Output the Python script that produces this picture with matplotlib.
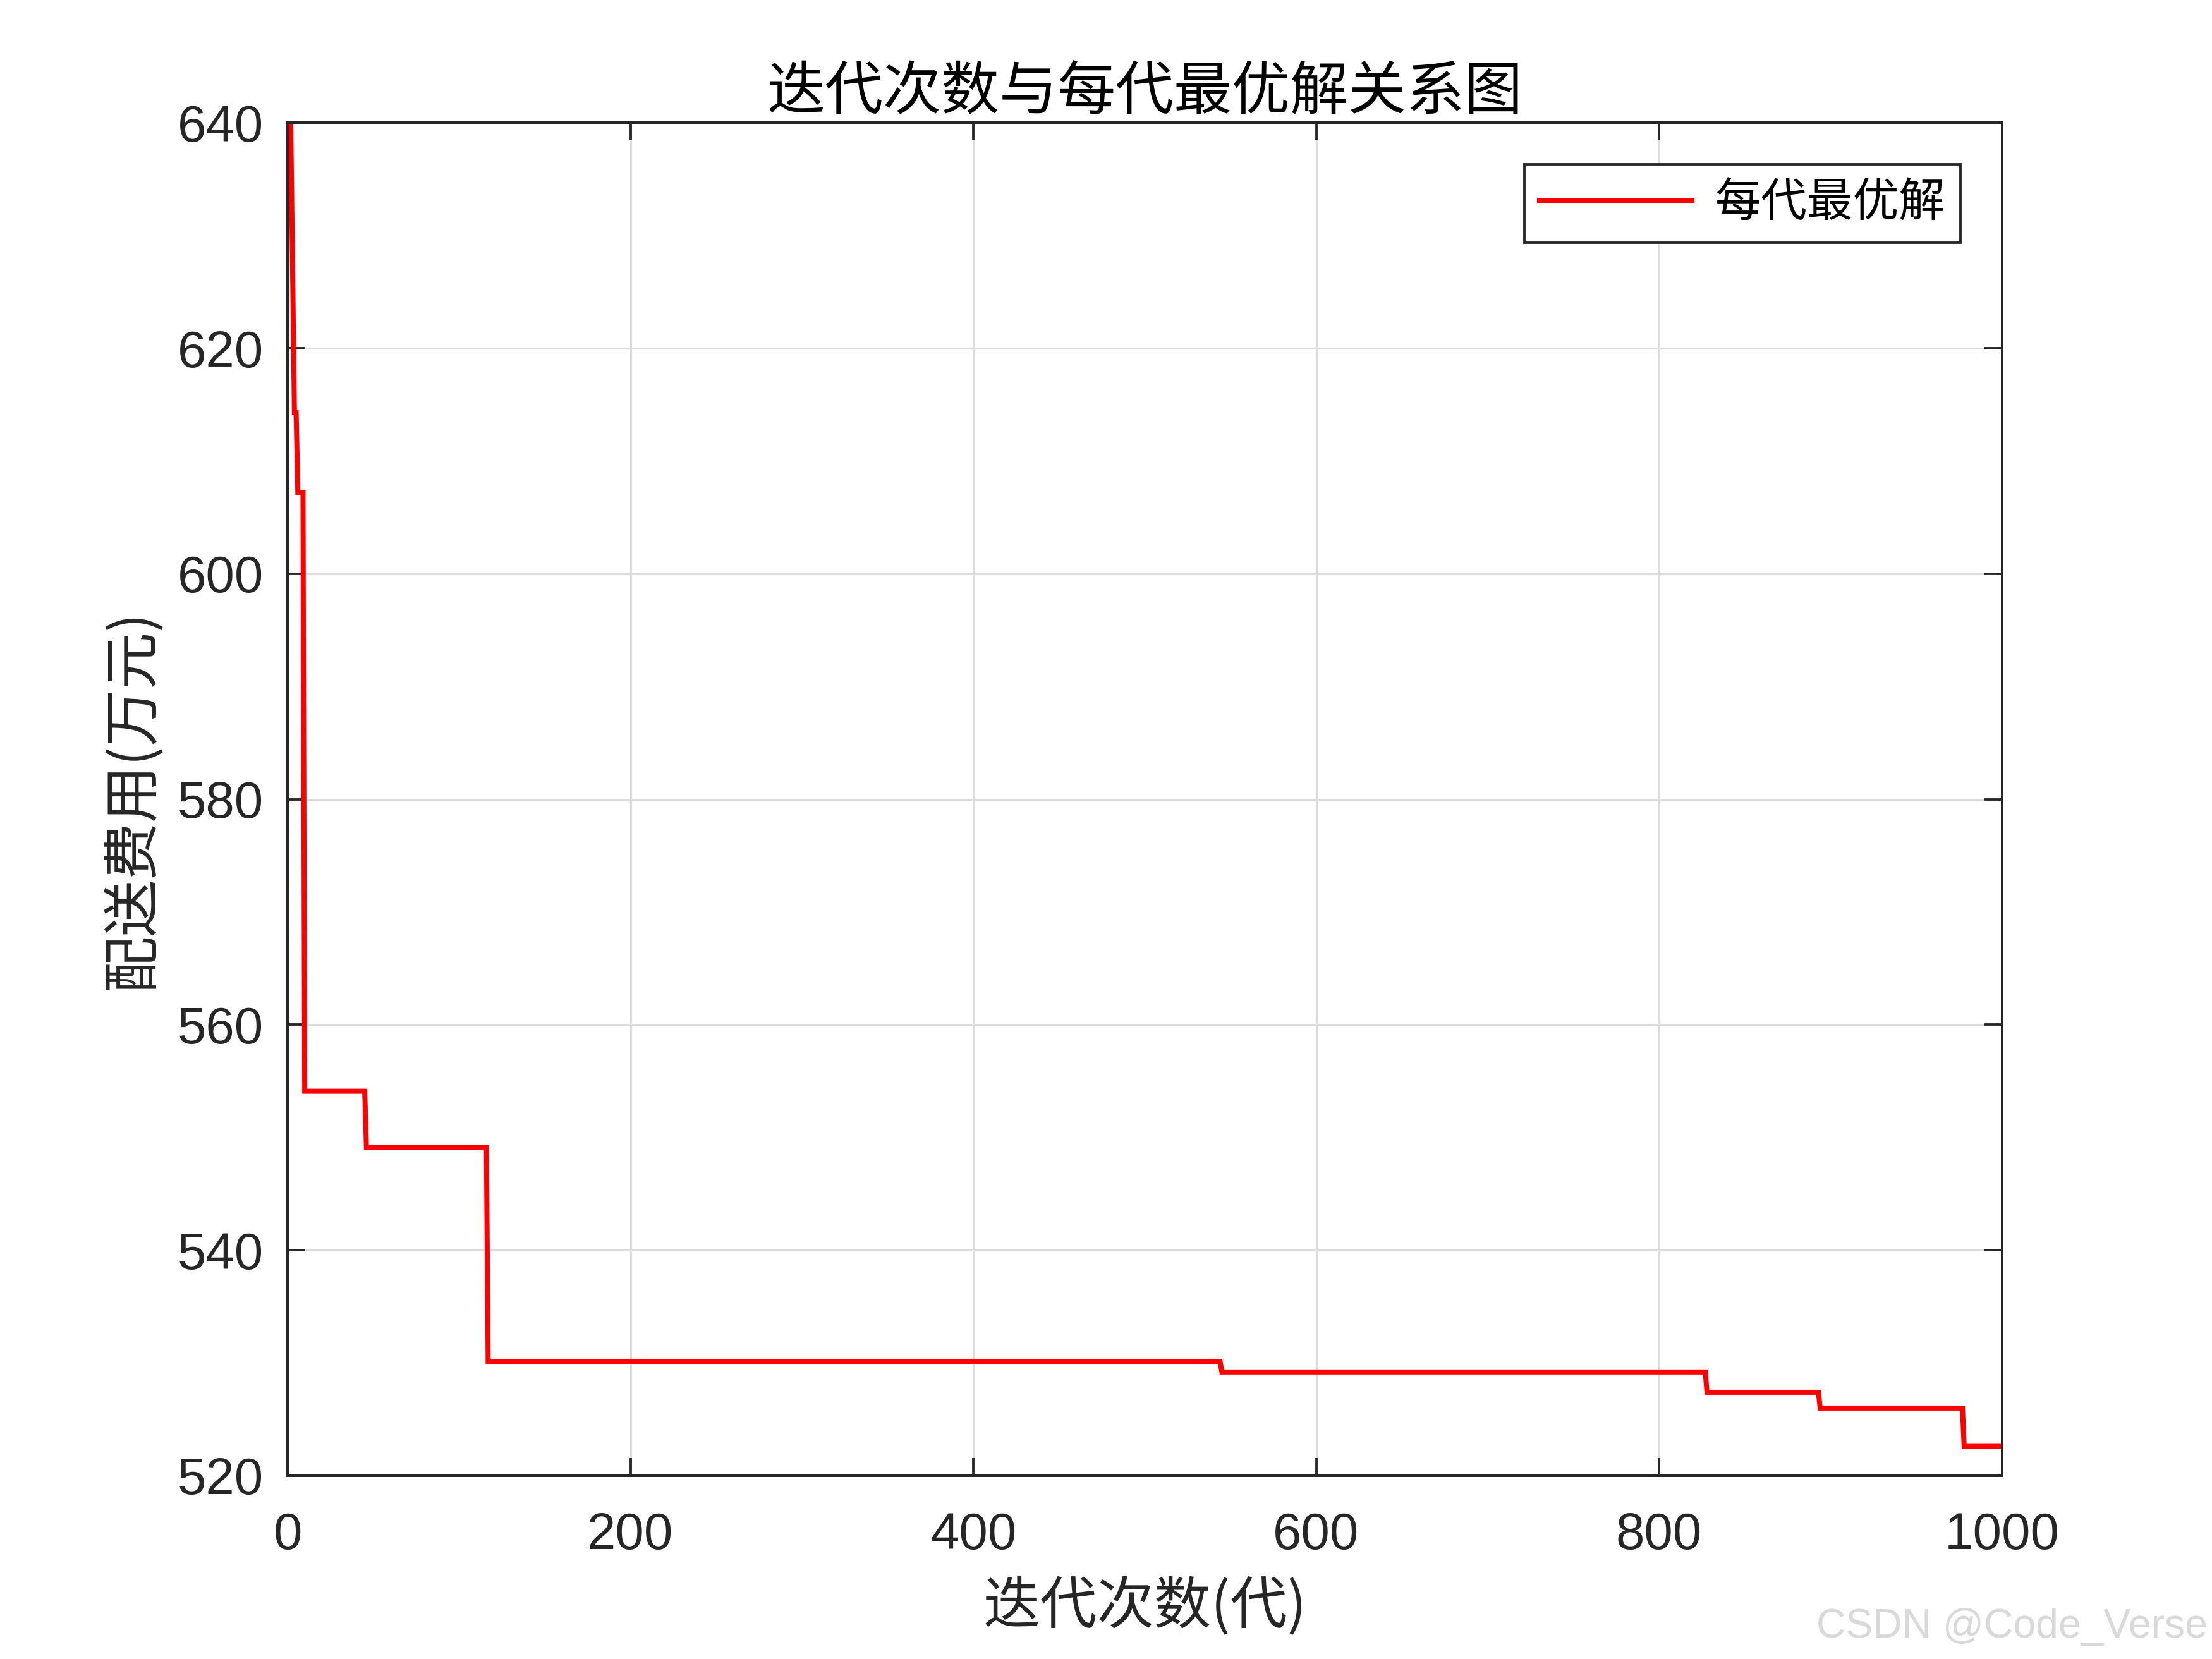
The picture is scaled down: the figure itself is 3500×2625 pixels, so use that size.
import numpy as np
import matplotlib
matplotlib.use("Agg")
import matplotlib.pyplot as plt

# best cost per generation (polyline vertices)
iters = [1, 4, 5, 6, 9, 10, 45, 46, 116, 117, 544, 545,
         827, 828, 893, 894, 977, 978, 1000]
best_cost = [650.0, 614.3, 614.3, 607.2, 607.2, 554.1, 554.1, 549.1,
             549.1, 530.1, 530.1, 529.2, 529.2, 527.4, 527.4, 526.0,
             526.0, 522.6, 522.6]

x_ticks = [0, 200, 400, 600, 800, 1000]
y_ticks = [520, 540, 560, 580, 600, 620, 640]

title_txt = "迭代次数与每代最优解关系图"
xlabel_txt = "迭代次数(代)"
ylabel_txt = "配送费用(万元)"
legend_txt = "每代最优解"
mark_txt = "CSDN @Code_Verse"

cjk = ["Noto Sans CJK SC", "DejaVu Sans"]
axcol = "#262626"

fig = plt.figure(figsize=(14, 10.5), dpi=250)
ax = fig.add_axes([0.13, 0.1105, 0.775, 0.8155])

ax.plot(iters, best_cost, color="#ff0000", lw=2.3, label=legend_txt,
        solid_joinstyle="miter")

ax.set_xlim(0, 1000)
ax.set_ylim(520, 640)
ax.set_xticks(x_ticks)
ax.set_yticks(y_ticks)
ax.grid(True, color="#dcdcdc", lw=0.9)
ax.set_axisbelow(True)

for s in ax.spines.values():
    s.set_color(axcol)
    s.set_linewidth(1.15)
ax.tick_params(direction="in", length=8, width=1.1, color=axcol,
               top=True, right=True, labelsize=23.5, labelcolor=axcol)
ax.tick_params(axis="x", pad=16.5)
ax.tick_params(axis="y", pad=11)
for lab in ax.get_xticklabels() + ax.get_yticklabels():
    lab.set_family("Liberation Sans")

ax.set_title(title_txt, family=cjk, fontsize=26.5, color="black", pad=6)
ax.set_xlabel(xlabel_txt, family=cjk, fontsize=26, color=axcol, labelpad=8)
ax.set_ylabel(ylabel_txt, family=cjk, fontsize=26, color=axcol, labelpad=7)

leg = ax.legend(loc="upper right", prop={"family": cjk, "size": 21},
                handlelength=3.3, handletextpad=0.5, borderaxespad=0.9,
                fancybox=False, framealpha=1, borderpad=0.33)
leg.get_frame().set_edgecolor(axcol)
leg.get_frame().set_linewidth(1.1)

fig.text(0.998, 0.013, mark_txt, ha="right", va="baseline",
         fontsize=18.5, color="#d9d9d9", family="Liberation Sans")

fig.savefig("out.png", dpi=250, facecolor="white")
